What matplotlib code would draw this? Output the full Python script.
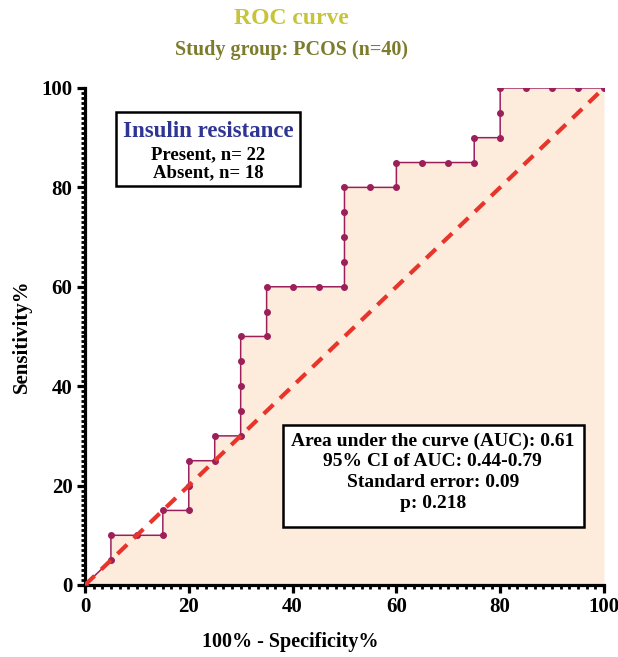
import matplotlib.pyplot as plt
from matplotlib.patches import Rectangle
from matplotlib.ticker import MultipleLocator, AutoMinorLocator

# Daten
fpr = [0, 5, 5, 10, 15, 15, 20, 20, 20, 25, 25, 30, 30, 30, 30, 30, 35, 35, 35,
       40, 45, 50, 50, 50, 50, 50, 55, 60, 60, 65, 70, 75, 75, 80, 80, 80,
       85, 90, 95, 100]
tpr = [0, 5, 10, 10, 10, 15, 15, 20, 25, 25, 30, 30, 35, 40, 45, 50, 50, 55, 60,
       60, 60, 60, 65, 70, 75, 80, 80, 80, 85, 85, 85, 85, 90, 90, 95, 100,
       100, 100, 100, 100]
ref_line = [0, 100]
ticks = [0, 20, 40, 60, 80, 100]

title = "ROC curve"
subtitle = "Study group: PCOS (n=40)"
legend_title = "Insulin resistance"
legend_lines = ["Present, n= 22", "Absent, n= 18"]
stats_lines = ["Area under the curve (AUC): 0.61", "95% CI of AUC: 0.44-0.79",
               "Standard error: 0.09", "p: 0.218"]

plt.rcParams['font.family'] = ['Liberation Serif', 'DejaVu Serif']
plt.rcParams['font.weight'] = 'bold'

fig = plt.figure(figsize=(6.18, 6.57), dpi=100)
ax = fig.add_axes([0.1375, 0.1096, 0.8398, 0.7565])

# Flaeche unter der Kurve
ax.fill_between(fpr, tpr, 0, color='#fdebdc', linewidth=0, zorder=1)
ax.plot(fpr, tpr, color='#9c1f5a', linewidth=1.1, marker='o', markersize=4,
        zorder=3)
ax.plot(ref_line, ref_line, color='#e8352b', linewidth=3, linestyle=(0, (3.2, 2.2)),
        zorder=4)

ax.set_xlim(0, 100)
ax.set_ylim(0, 100)
ax.set_xticks(ticks)
ax.set_yticks(ticks)
ax.xaxis.set_minor_locator(AutoMinorLocator(12))
ax.yaxis.set_minor_locator(MultipleLocator(1))

for s in ['top', 'right']:
    ax.spines[s].set_visible(False)
for s in ['left', 'bottom']:
    ax.spines[s].set_linewidth(2.3)
ax.tick_params(which='major', length=6, width=2.3, labelsize=15, pad=3)
ax.tick_params(which='minor', length=3.2, width=2)
for lab in ax.get_xticklabels() + ax.get_yticklabels():
    lab.set_fontweight('bold')

ax.set_xlabel("100% - Specificity%", fontsize=14.5, fontweight='bold')
ax.xaxis.set_label_coords(0.395, -0.094)
ax.set_ylabel("Sensitivity%", fontsize=15, fontweight='bold', labelpad=7)

fig.text(0.471, 0.972, title, ha='center', va='center', fontsize=17,
         fontweight='bold', color='#c6c43a')
fig.text(0.471, 0.924, subtitle, ha='center', va='center', fontsize=14.5,
         fontweight='bold', color='#7d7b2c')

# Legende oben links
ax.add_patch(Rectangle((6.0, 80.3), 35.4, 14.9, facecolor='white',
                       edgecolor='black', linewidth=1.8, zorder=5))
ax.text(23.7, 91.2, legend_title, ha='center', va='center', fontsize=16.5,
        fontweight='bold', color='#2e3592', zorder=6)
for i, line in enumerate(legend_lines):
    ax.text(23.7, 86.6 - i * 3.6, line, ha='center', va='center', fontsize=13.5,
            fontweight='bold', color='black', zorder=6)

# Statistik-Box
ax.add_patch(Rectangle((38.2, 11.7), 57.9, 20.5, facecolor='white',
                       edgecolor='black', linewidth=1.8, zorder=5))
for i, line in enumerate(stats_lines):
    ax.text(67.0, 28.9 - i * 4.15, line, ha='center', va='center', fontsize=14,
            fontweight='bold', color='black', zorder=6)

fig.savefig("out.png", dpi=100)
